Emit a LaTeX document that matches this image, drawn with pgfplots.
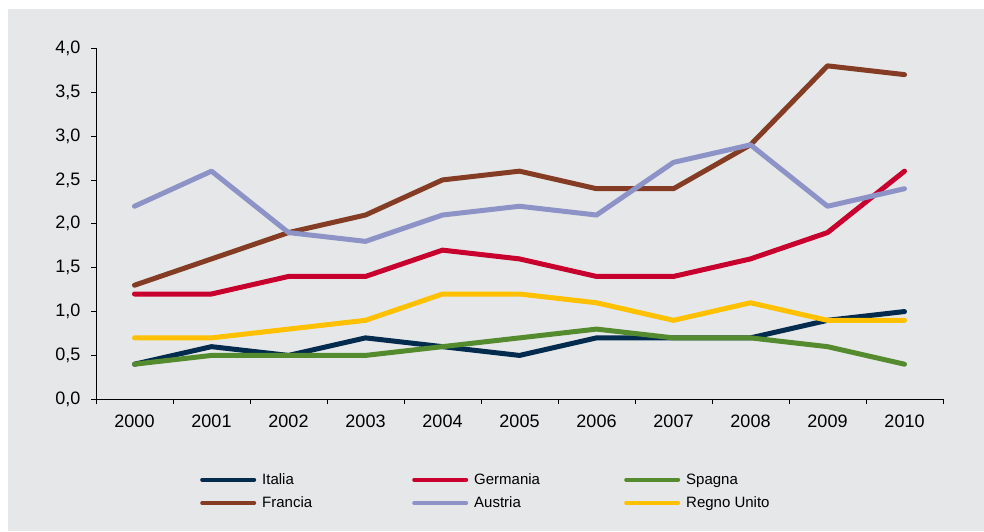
\documentclass[border=0pt]{standalone}
\usepackage{fontspec}
\setmainfont{Liberation Sans}
\usepackage{pgfplots}
\pgfplotsset{compat=1.18}
\definecolor{bg}{HTML}{E6E7E8}
\definecolor{cIta}{HTML}{022B4E}
\definecolor{cGer}{HTML}{C8002D}
\definecolor{cSpa}{HTML}{558B2F}
\definecolor{cFra}{HTML}{843D24}
\definecolor{cAus}{HTML}{8D93C6}
\definecolor{cUK}{HTML}{FFC000}
\begin{document}
\begin{tikzpicture}[x=1pt,y=1pt]
\useasboundingbox (0,0) rectangle (984,531);
\fill[white] (0,0) rectangle (984,531);
\fill[bg] (8,0) rectangle (984,522);
\begin{axis}[
  at={(96pt,131.7pt)}, anchor=south west,
  scale only axis, width=847pt, height=351pt,
  xmin=-0.5, xmax=10.5, ymin=0, ymax=4,
  axis x line=bottom, axis y line=left,
  axis line style={-, black, line width=0.8pt},
  xtick={-0.5,0.5,...,10.5}, xticklabels={},
  extra x ticks={0,1,...,10},
  extra x tick labels={2000,2001,2002,2003,2004,2005,2006,2007,2008,2009,2010},
  extra x tick style={major tick length=0pt},
  ytick={0,0.5,...,4},
  major tick length=5pt, tick align=outside,
  tick style={black, line width=0.8pt},
  /pgf/number format/.cd, use comma, fixed, fixed zerofill, precision=1, assume math mode=true,
  /pgfplots/.cd,
  tick label style={font=\fontsize{18}{20}\selectfont},
  yticklabel style={xshift=-7pt},
  xticklabel style={yshift=-12pt},
  legend columns=3,
  legend style={draw=none, fill=none, at={(0.1228,-0.205)}, anchor=north west,
    font=\fontsize{15}{17}\selectfont, inner sep=0pt, row sep=7pt,
    /tikz/every odd column/.append style={column sep=4pt}},
  legend cell align=left,
  legend image code/.code={\draw[#1, line width=4pt, line cap=round] (0pt,0pt) -- (52pt,0pt);},
  every axis plot/.append style={line width=5pt, line join=round, line cap=round, mark=none},
]
\addplot[cIta] coordinates {(0,0.4)(1,0.6)(2,0.5)(3,0.7)(4,0.6)(5,0.5)(6,0.7)(7,0.7)(8,0.7)(9,0.9)(10,1.0)};
\addlegendentry{\makebox[148pt][l]{Italia}}
\addplot[cGer] coordinates {(0,1.2)(1,1.2)(2,1.4)(3,1.4)(4,1.7)(5,1.6)(6,1.4)(7,1.4)(8,1.6)(9,1.9)(10,2.6)};
\addlegendentry{\makebox[148pt][l]{Germania}}
\addplot[cSpa] coordinates {(0,0.4)(1,0.5)(2,0.5)(3,0.5)(4,0.6)(5,0.7)(6,0.8)(7,0.7)(8,0.7)(9,0.6)(10,0.4)};
\addlegendentry{\makebox[148pt][l]{Spagna}}
\addplot[cFra] coordinates {(0,1.3)(1,1.6)(2,1.9)(3,2.1)(4,2.5)(5,2.6)(6,2.4)(7,2.4)(8,2.9)(9,3.8)(10,3.7)};
\addlegendentry{\makebox[148pt][l]{Francia}}
\addplot[cAus] coordinates {(0,2.2)(1,2.6)(2,1.9)(3,1.8)(4,2.1)(5,2.2)(6,2.1)(7,2.7)(8,2.9)(9,2.2)(10,2.4)};
\addlegendentry{\makebox[148pt][l]{Austria}}
\addplot[cUK] coordinates {(0,0.7)(1,0.7)(2,0.8)(3,0.9)(4,1.2)(5,1.2)(6,1.1)(7,0.9)(8,1.1)(9,0.9)(10,0.9)};
\addlegendentry{\makebox[148pt][l]{Regno Unito}}
\end{axis}
\end{tikzpicture}
\end{document}
